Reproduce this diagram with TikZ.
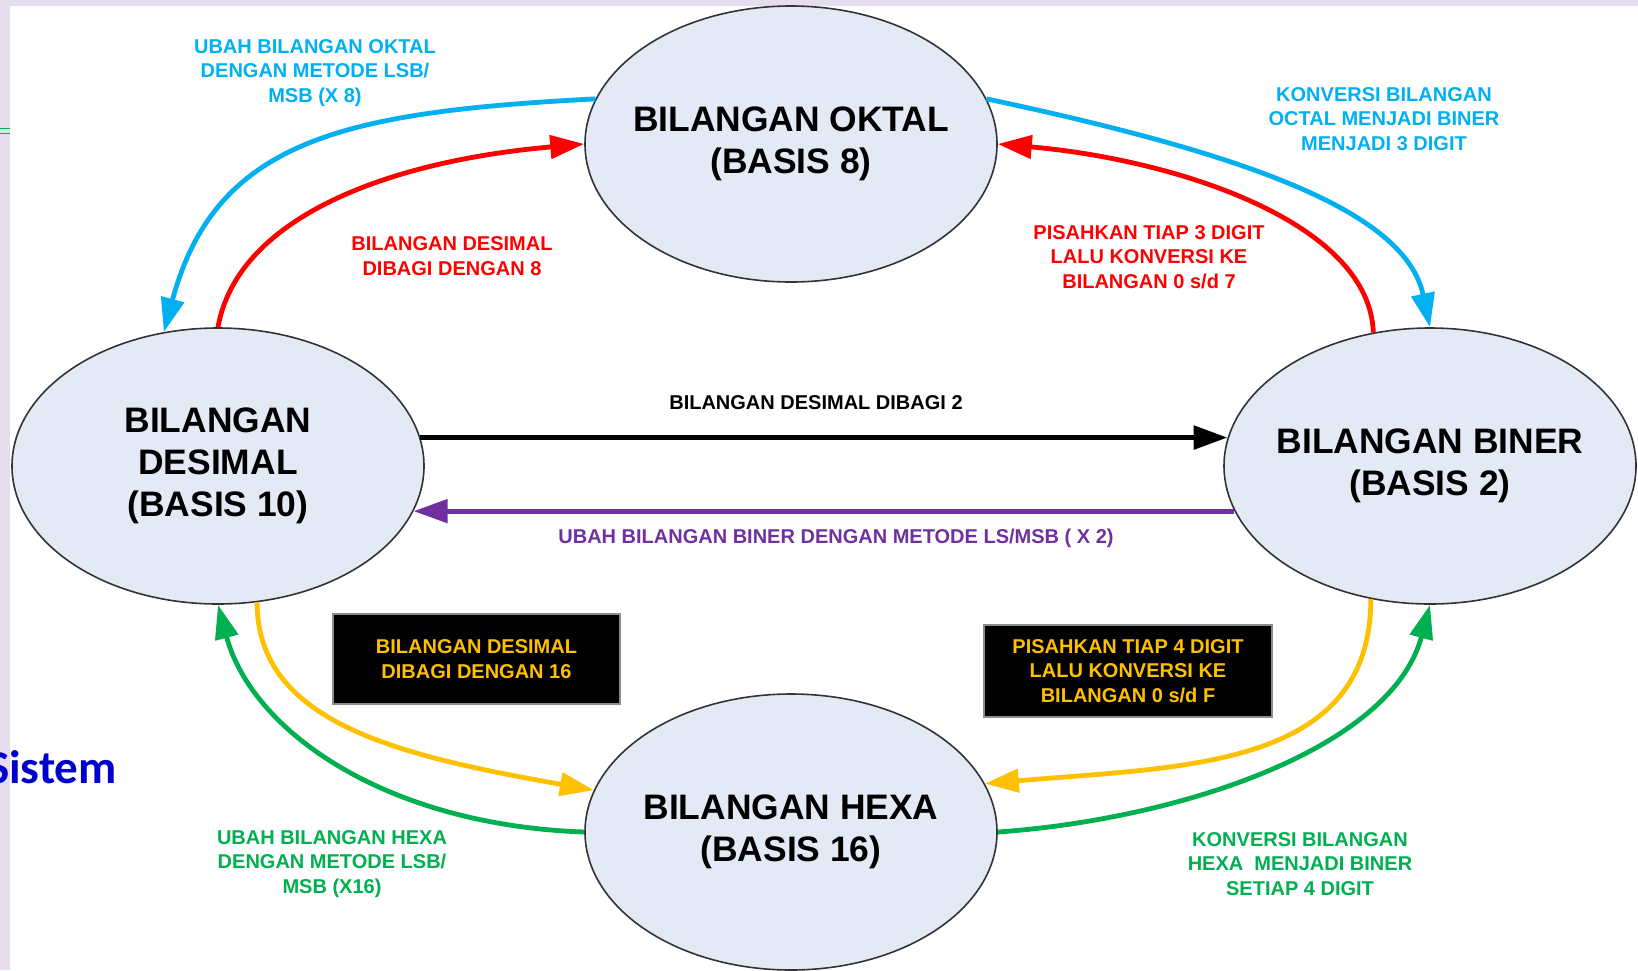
\documentclass[tikz,border=0pt]{standalone}
\usepackage{fontspec}
\setmainfont{Liberation Sans}
\newfontfamily\slidefont{Carlito}
\usepackage{tikz}
\usetikzlibrary{arrows.meta,shapes.geometric}
\usetikzlibrary{positioning}

\definecolor{ellfill}{HTML}{E4EAF5}
\definecolor{slidebg}{HTML}{E6DEEF}
\definecolor{skyblue}{HTML}{00B0F0}
\definecolor{convred}{HTML}{FF0000}
\definecolor{convgreen}{HTML}{00B050}
\definecolor{convgold}{HTML}{FFC000}
\definecolor{convpurple}{HTML}{7030A0}
\definecolor{titleblue}{HTML}{0000CC}

\tikzset{
    basis/.style={
           ellipse,
           draw=black!80, line width=0.8pt,
           fill=ellfill,
           minimum width=206pt,
           minimum height=138pt,
           inner xsep=-14pt, inner ysep=0pt,
           align=center,
           font=\bfseries\fontsize{17.7}{21}\selectfont,
           },
    note/.style={
           align=center,
           font=\bfseries\fontsize{10}{12.25}\selectfont,
           },
    darkbox/.style={
           note,
           rectangle,
           fill=black, draw=black!45, line width=0.6pt,
           text=convgold,
           },
    conv/.style={line width=2.4pt},
}

\begin{document}
\begin{tikzpicture}[->,>={Triangle[length=17pt,width=11.5pt]},x=0.5pt,y=-0.5pt]

 % slide background with its frame strips
 \useasboundingbox (0,0) rectangle (1638,970);
 \fill[white] (0,0) rectangle (1638,970);
 \fill[slidebg] (0,0) rectangle (1638,6);
 \fill[slidebg] (0,0) rectangle (10,970);
 \draw[-,convgreen,line width=0.5pt] (0,128) -- (10,128) (0,133) -- (10,133);

 \node[text=titleblue, font=\slidefont\bfseries\fontsize{23.5}{28}\selectfont,
  inner sep=0pt, anchor=base east] (sistem) at (117,783) {Sistem};

 \node[basis] (okt) at (791,144) {BILANGAN OKTAL\\(BASIS 8)};

 \node[basis,           % ellipse style
  left of=okt,          % left of the octal node
  node distance=286.5pt,
  yshift=-161pt,        % one row down
  anchor=center] (des)
  {BILANGAN\\DESIMAL\\(BASIS 10)};

 \node[basis,
  right of=okt,
  node distance=319.5pt,
  yshift=-161pt,
  anchor=center] (bin)
  {BILANGAN BINER\\(BASIS 2)};

 \node[basis,
  below of=okt,
  node distance=344pt,
  anchor=center] (hex)
  {BILANGAN HEXA\\(BASIS 16)};

 % texts along the arrows
 \node[note, text=skyblue, left of=okt, node distance=238pt, yshift=35.5pt,
  anchor=center] (octToDec) {UBAH BILANGAN OKTAL\\DENGAN METODE LSB/\\MSB (X 8)};
 \node[note, text=convred, left of=okt, node distance=169.5pt, yshift=-56pt,
  anchor=center] (decToOct) {BILANGAN DESIMAL\\DIBAGI DENGAN 8};
 \node[note, text=skyblue, right of=okt, node distance=296.5pt, yshift=12.5pt,
  anchor=center] (octToBin) {KONVERSI BILANGAN\\OCTAL MENJADI BINER\\MENJADI 3 DIGIT};
 \node[note, text=convred, right of=okt, node distance=179pt, yshift=-56.5pt,
  anchor=center] (binToOct) {PISAHKAN TIAP 3 DIGIT\\LALU KONVERSI KE\\BILANGAN 0 s/d 7};
 \node[note, right of=des, node distance=299pt, yshift=31.5pt,
  anchor=center] (decToBin) {BILANGAN DESIMAL DIBAGI 2};
 \node[note, text=convpurple, right of=des, node distance=309pt, yshift=-36pt,
  anchor=center] (binToDec) {UBAH BILANGAN BINER DENGAN METODE LS/MSB ( X 2)};
 \node[darkbox, minimum width=143.5pt, minimum height=45pt,
  right of=des, node distance=129.25pt, yshift=-96.5pt,
  anchor=center] (decToHex) {BILANGAN DESIMAL\\DIBAGI DENGAN 16};
 \node[darkbox, minimum width=144pt, minimum height=46pt,
  left of=bin, node distance=151pt, yshift=-102.5pt,
  anchor=center] (binToHex) {PISAHKAN TIAP 4 DIGIT\\LALU KONVERSI KE\\BILANGAN 0 s/d F};
 \node[note, text=convgreen, left of=hex, node distance=229.5pt, yshift=-16pt,
  anchor=center] (hexToDec) {UBAH BILANGAN HEXA\\DENGAN METODE LSB/\\MSB (X16)};
 \node[note, text=convgreen, right of=hex, node distance=254.5pt, yshift=-16pt,
  anchor=center] (hexToBin) {KONVERSI BILANGAN\\HEXA~ MENJADI BINER\\SETIAP 4 DIGIT};

 % the conversion arrows
 \path[conv]
 (okt.167)  edge[skyblue, out=183, in=75, out distance=125pt, in distance=100pt] (des.112)
 (des.north) edge[convred, out=80, in=185, out distance=55pt, in distance=100pt] (okt.west)
 (okt.13)   edge[skyblue, out=348, in=102, out distance=130pt, in distance=60pt] (bin.north)
 (bin.113)  edge[convred, out=92, in=355, out distance=55pt, in distance=90pt] (okt.east)
 (des.8)    edge[black, line width=2.8pt] (bin.172)
 (bin.193)  edge[convpurple] (des.347)
 (des.286)  edge[convgold, out=270, in=170, out distance=60pt, in distance=100pt] (hex.168)
 (hex.west) edge[convgreen, out=178, in=285, out distance=100pt, in distance=65pt] (des.south)
 (bin.246)  edge[convgold, out=270, in=5, out distance=85pt, in distance=100pt] (hex.14)
 (hex.east) edge[convgreen, out=4, in=255, out distance=90pt, in distance=75pt] (bin.south);

\end{tikzpicture}
\end{document}
